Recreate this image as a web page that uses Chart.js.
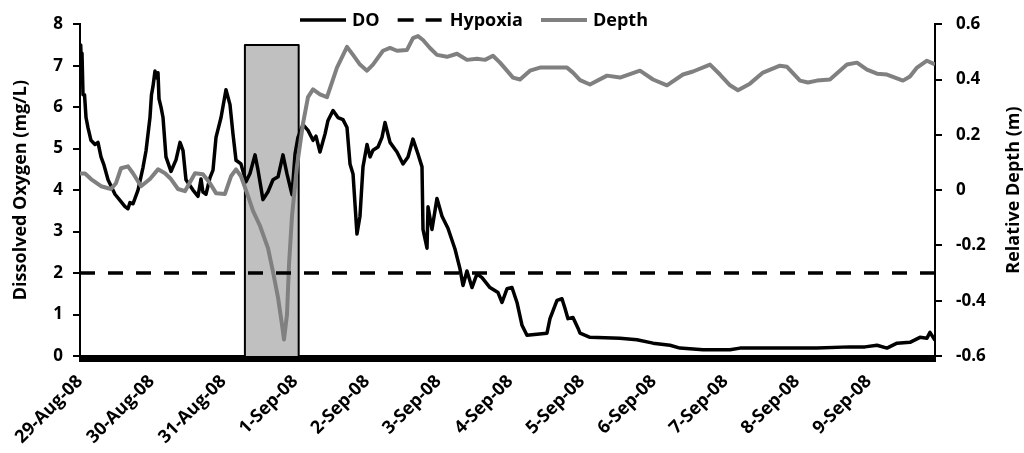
<!DOCTYPE html>
<html>
<head>
<meta charset="utf-8">
<script src="https://cdn.jsdelivr.net/npm/chart.js@4/dist/chart.umd.min.js"></script>
<style>
  html, body { margin: 0; padding: 0; background: #fff; }
</style>
</head>
<body>
<canvas id="chart" width="1024" height="453"></canvas>
<script>
// time is in days after 29-Aug-08 00:00
const dayLabels = ['29-Aug-08', '30-Aug-08', '31-Aug-08', '1-Sep-08', '2-Sep-08', '3-Sep-08',
  '4-Sep-08', '5-Sep-08', '6-Sep-08', '7-Sep-08', '8-Sep-08', '9-Sep-08'];
const lastDay = 11.925;

const doDays = [0.000, 0.010, 0.021, 0.028, 0.042, 0.063, 0.084, 0.112, 0.153, 0.209, 0.251, 0.293,
  0.335, 0.391, 0.488, 0.572, 0.628, 0.669, 0.697, 0.739, 0.809, 0.879, 0.921, 0.976, 0.997, 1.018,
  1.046, 1.074, 1.088, 1.102, 1.130, 1.158, 1.199, 1.269, 1.339, 1.395, 1.437, 1.478, 1.576, 1.646,
  1.688, 1.715, 1.757, 1.813, 1.855, 1.897, 1.967, 2.036, 2.092, 2.134, 2.176, 2.245, 2.315, 2.371,
  2.441, 2.483, 2.552, 2.622, 2.692, 2.762, 2.831, 2.887, 2.957, 2.999, 3.040, 3.110, 3.180, 3.250,
  3.291, 3.347, 3.417, 3.459, 3.529, 3.598, 3.668, 3.724, 3.766, 3.808, 3.863, 3.905, 3.947, 4.003,
  4.045, 4.086, 4.156, 4.212, 4.254, 4.324, 4.421, 4.505, 4.575, 4.644, 4.714, 4.770, 4.784, 4.840,
  4.854, 4.909, 4.979, 5.049, 5.132, 5.230, 5.300, 5.342, 5.397, 5.467, 5.537, 5.607, 5.718, 5.830,
  5.886, 5.955, 6.025, 6.095, 6.165, 6.234, 6.513, 6.555, 6.653, 6.722, 6.764, 6.806, 6.876, 6.946,
  6.974, 7.113, 7.531, 7.768, 7.992, 8.229, 8.368, 8.689, 9.066, 9.205, 9.805, 10.279, 10.739,
  10.948, 11.116, 11.255, 11.395, 11.576, 11.715, 11.813, 11.855, 11.925];
const doValues = [7.2, 7.5, 6.9, 7.3, 6.3, 6.3, 5.75, 5.5, 5.2, 5.1, 5.15, 4.8,
  4.6, 4.25, 3.9, 3.72, 3.6, 3.55, 3.7, 3.67, 4.0, 4.55, 4.95, 5.75, 6.3, 6.5,
  6.87, 6.7, 6.83, 6.2, 6.0, 5.75, 4.8, 4.45, 4.73, 5.15, 4.95, 4.25, 4.0, 3.85,
  4.27, 3.95, 3.9, 4.3, 4.48, 5.27, 5.75, 6.42, 6.06, 5.35, 4.72, 4.63, 4.2, 4.4,
  4.85, 4.48, 3.77, 3.96, 4.25, 4.32, 4.85, 4.39, 3.89, 4.87, 5.27, 5.58, 5.44, 5.2,
  5.3, 4.92, 5.35, 5.68, 5.92, 5.75, 5.7, 5.51, 4.63, 4.39, 2.94, 3.37, 4.56, 5.1,
  4.8, 4.96, 5.04, 5.27, 5.63, 5.15, 4.92, 4.63, 4.8, 5.23, 4.87, 4.56, 3.05, 2.6,
  3.6, 3.05, 3.8, 3.37, 3.08, 2.58, 2.1, 1.7, 2.05, 1.65, 1.98, 1.89, 1.65, 1.53,
  1.29, 1.62, 1.65, 1.29, 0.74, 0.5, 0.55, 0.9, 1.34, 1.38, 1.15, 0.9, 0.93, 0.67,
  0.55, 0.45, 0.43, 0.39, 0.31, 0.26, 0.19, 0.15, 0.15, 0.19, 0.19, 0.19, 0.22,
  0.22, 0.26, 0.19, 0.31, 0.33, 0.45, 0.43, 0.57, 0.38];

const depthDays = [0.000, 0.070, 0.153, 0.293, 0.432, 0.502, 0.572, 0.669, 0.739, 0.851, 0.976,
  1.088, 1.185, 1.269, 1.367, 1.464, 1.604, 1.715, 1.813, 1.897, 2.022, 2.106, 2.176, 2.245, 2.343,
  2.413, 2.510, 2.622, 2.692, 2.762, 2.817, 2.845, 2.887, 2.915, 2.957, 3.026, 3.110, 3.180, 3.250,
  3.347, 3.445, 3.584, 3.724, 3.808, 3.905, 4.003, 4.086, 4.226, 4.324, 4.421, 4.561, 4.644, 4.714,
  4.784, 4.881, 4.979, 5.119, 5.258, 5.397, 5.537, 5.649, 5.760, 5.858, 5.955, 6.039, 6.137, 6.276,
  6.416, 6.597, 6.792, 6.876, 6.974, 7.113, 7.350, 7.531, 7.810, 7.992, 8.187, 8.410, 8.550, 8.787,
  8.926, 9.066, 9.177, 9.344, 9.526, 9.763, 9.861, 10.042, 10.153, 10.279, 10.460, 10.697, 10.837,
  10.976, 11.116, 11.255, 11.478, 11.576, 11.674, 11.813, 11.925];
const depthValues = [0.06, 0.06, 0.04, 0.014, 0.004, 0.025, 0.079, 0.086, 0.061, 0.014, 0.04,
  0.075, 0.061, 0.04, 0.004, -0.004, 0.061, 0.057, 0.025, -0.011, -0.014, 0.05, 0.075, 0.05, -0.021,
  -0.075, -0.129, -0.21, -0.296, -0.389, -0.486, -0.54, -0.45, -0.27, -0.093, 0.086, 0.24, 0.336, 0.364,
  0.346, 0.336, 0.443, 0.518, 0.489, 0.454, 0.432, 0.454, 0.504, 0.514, 0.504, 0.507, 0.55, 0.557,
  0.543, 0.514, 0.489, 0.482, 0.493, 0.471, 0.475, 0.471, 0.486, 0.461, 0.432, 0.407, 0.4, 0.432,
  0.443, 0.443, 0.443, 0.425, 0.398, 0.382, 0.414, 0.407, 0.432, 0.4, 0.379, 0.418, 0.429, 0.454,
  0.418, 0.379, 0.361, 0.385, 0.425, 0.45, 0.446, 0.396, 0.389, 0.396, 0.4, 0.454, 0.461,
  0.436, 0.421, 0.418, 0.396, 0.411, 0.443, 0.468, 0.454];

const hypoxiaLevel = 2;
// shaded storm window
const stormStart = 2.30;
const stormEnd = 3.05;
const stormTop = 7.5;

const pairs = (xs, ys) => xs.map((x, i) => ({ x: x, y: ys[i] }));

const hourTicks = [];
for (let k = 0; k / 24 <= lastDay; k++) hourTicks.push({ value: k / 24 });

Chart.defaults.font.family = "'Open Sans', sans-serif";
Chart.defaults.font.weight = 'bold';
Chart.defaults.color = '#000';

const FONT = "bold 18px 'Open Sans', sans-serif";

// legend and axis titles drawn straight onto the canvas
const extras = {
  id: 'extras',
  afterDraw(chart) {
    const ctx = chart.ctx;
    const area = chart.chartArea;
    const midY = (area.top + area.bottom) / 2;
    ctx.save();
    ctx.font = FONT;
    ctx.fillStyle = '#000';
    ctx.textBaseline = 'middle';
    ctx.textAlign = 'center';

    ctx.save();
    ctx.translate(21, midY);
    ctx.rotate(-Math.PI / 2);
    ctx.fillText('Dissolved Oxygen (mg/L)', 0, 0);
    ctx.restore();

    ctx.save();
    ctx.translate(1014, midY);
    ctx.rotate(-Math.PI / 2);
    ctx.fillText('Relative Depth (m)', 0, 0);
    ctx.restore();

    const items = [
      { text: 'DO', color: '#000', width: 3.5, dash: [] },
      { text: 'Hypoxia', color: '#000', width: 3.5, dash: [16, 12] },
      { text: 'Depth', color: '#808080', width: 4, dash: [] }
    ];
    const y = 20;
    let x = 300;
    ctx.textAlign = 'left';
    items.forEach(it => {
      ctx.beginPath();
      ctx.strokeStyle = it.color;
      ctx.lineWidth = it.width;
      ctx.setLineDash(it.dash);
      ctx.moveTo(x, y);
      ctx.lineTo(x + 46, y);
      ctx.stroke();
      ctx.setLineDash([]);
      ctx.fillText(it.text, x + 52, y + 1);
      x += 52 + ctx.measureText(it.text).width + 18;
    });
    ctx.restore();
  }
};

new Chart(document.getElementById('chart'), {
  type: 'line',
  data: {
    datasets: [
      {
        label: 'Hypoxia',
        data: [{ x: 0, y: hypoxiaLevel }, { x: lastDay, y: hypoxiaLevel }],
        borderColor: '#000',
        borderWidth: 3.5,
        borderDash: [15, 13],
        yAxisID: 'y',
        order: 0
      },
      {
        label: 'Depth',
        data: pairs(depthDays, depthValues),
        borderColor: '#808080',
        borderWidth: 4,
        yAxisID: 'y1',
        order: 1
      },
      {
        label: 'DO',
        data: pairs(doDays, doValues),
        borderColor: '#000',
        borderWidth: 3.5,
        yAxisID: 'y',
        order: 2
      },
      {
        label: 'Storm',
        data: [
          { x: stormStart, y: 0 }, { x: stormStart, y: stormTop },
          { x: stormEnd, y: stormTop }, { x: stormEnd, y: 0 }
        ],
        borderColor: '#000',
        borderWidth: 2,
        backgroundColor: '#c0c0c0',
        fill: 'origin',
        yAxisID: 'y',
        order: 3
      }
    ]
  },
  options: {
    responsive: false,
    animation: false,
    layout: { padding: { top: 21 } },
    elements: {
      point: { radius: 0 },
      line: { tension: 0, borderJoinStyle: 'round' }
    },
    plugins: {
      legend: { display: false },
      tooltip: { enabled: false }
    },
    scales: {
      x: {
        type: 'linear',
        min: 0,
        max: lastDay,
        afterBuildTicks: s => { s.ticks = hourTicks.map(t => ({ value: t.value })); },
        afterFit: s => { s.height = 97; },
        ticks: {
          autoSkip: false,
          minRotation: 45,
          maxRotation: 45,
          padding: 9,
          font: { size: 18 },
          callback: (v, i) => (i % 24 === 0 ? dayLabels[i / 24] : '')
        },
        grid: { drawOnChartArea: false, tickLength: 6, color: '#000', lineWidth: 3 },
        border: { color: '#000', width: 2 }
      },
      y: {
        position: 'left',
        min: 0,
        max: 8,
        afterFit: s => { s.width = 80; },
        ticks: { stepSize: 1, padding: 10, font: { size: 17 } },
        grid: { drawOnChartArea: false, tickLength: 7, color: '#000', lineWidth: 2 },
        border: { color: '#000', width: 2 }
      },
      y1: {
        position: 'right',
        min: -0.6,
        max: 0.6,
        afterFit: s => { s.width = 89; },
        ticks: {
          stepSize: 0.2,
          padding: 14,
          font: { size: 17 },
          callback: v => String(Number(v.toFixed(1)))
        },
        grid: { drawOnChartArea: false, tickLength: 7, color: '#000', lineWidth: 2 },
        border: { color: '#000', width: 2 }
      }
    }
  },
  plugins: [extras]
});
</script>
</body>
</html>
